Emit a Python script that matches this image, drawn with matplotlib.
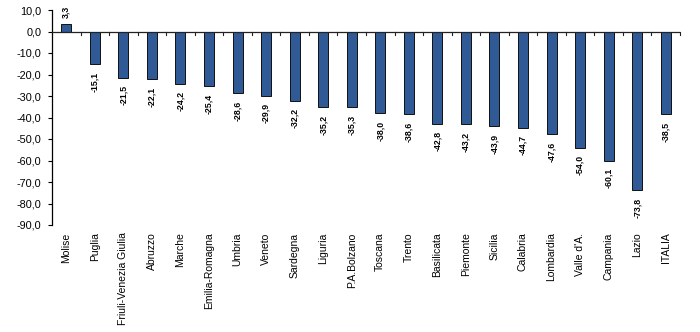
import numpy as np
import matplotlib
matplotlib.use('Agg')
import matplotlib.pyplot as plt
from matplotlib.ticker import FuncFormatter

regioni = ['Molise', 'Puglia', 'Friuli-Venezia Giulia', 'Abruzzo', 'Marche',
           'Emilia-Romagna', 'Umbria', 'Veneto', 'Sardegna', 'Liguria',
           'P.A.Bolzano', 'Toscana', 'Trento', 'Basilicata', 'Piemonte',
           'Sicilia', 'Calabria', 'Lombardia', "Valle d'A.", 'Campania',
           'Lazio', 'ITALIA']
valori = [3.3, -15.1, -21.5, -22.1, -24.2, -25.4, -28.6, -29.9, -32.2, -35.2,
          -35.3, -38.0, -38.6, -42.8, -43.2, -43.9, -44.7, -47.6, -54.0,
          -60.1, -73.8, -38.5]

plt.rcParams['font.family'] = ['Liberation Sans', 'DejaVu Sans']


def virgola(v):
    return ('%.1f' % v).replace('.', ',')


fig = plt.figure(figsize=(7.0, 3.32), dpi=100)
ax = fig.add_axes([52/700, 1 - 225/332, 628/700, 215/332])

x = np.arange(len(regioni))
ax.bar(x, valori, width=0.35, color='#2F5A96', edgecolor='#111111', lw=0.7, zorder=3)

ax.set_xlim(-0.5, len(regioni) - 0.5)
ax.set_ylim(-90, 10)
ax.set_yticks(np.arange(-90, 11, 10))
ax.yaxis.set_major_formatter(FuncFormatter(lambda v, p: virgola(v)))
ax.tick_params(axis='y', labelsize=7.8, length=3, width=0.8, pad=4.5)

for s in ['top', 'right', 'bottom']:
    ax.spines[s].set_visible(False)
ax.spines['left'].set_linewidth(0.9)
ax.axhline(0, color='#222222', lw=0.9, zorder=4)

# tick marks between categories on the zero line
for b in np.arange(0.5, len(regioni), 1.0):
    ax.plot([b, b], [0, -1.5], color='#222222', lw=0.8, zorder=4, clip_on=False)
ax.set_xticks([])

for xi, v in zip(x, valori):
    if v >= 0:
        ax.text(xi, v + 3.0, virgola(v), rotation=90, ha='center', va='bottom',
                fontsize=6.3, fontweight='bold')
    else:
        ax.text(xi, v - 3.5, virgola(v), rotation=90, ha='center', va='top',
                fontsize=6.3, fontweight='bold')

for xi, name in zip(x, regioni):
    ax.text(xi, -93.5, name, rotation=90, ha='center', va='top', fontsize=7.5)

fig.savefig('out.png', dpi=100)
